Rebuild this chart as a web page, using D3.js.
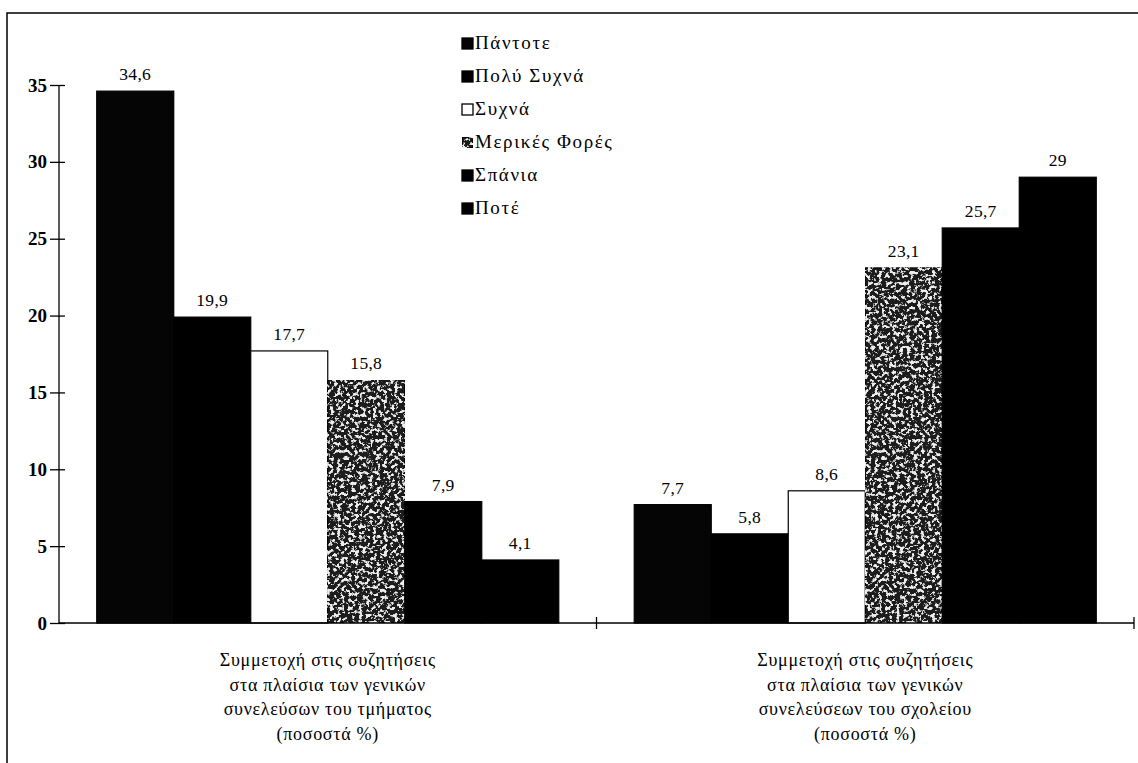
<!DOCTYPE html>
<html><head><meta charset="utf-8">
<script src="https://cdn.jsdelivr.net/npm/d3@7"></script>
<style>
html,body{margin:0;padding:0;background:#fff;}
svg{display:block;}
text{font-family:"Liberation Serif","Times New Roman",serif;fill:#000;}
</style></head>
<body>
<script>
const categories = [
  ["Συμμετοχή στις συζητήσεις","στα πλαίσια των γενικών","συνελεύσων του τμήματος","(ποσοστά %)"],
  ["Συμμετοχή στις συζητήσεις","στα πλαίσια των γενικών","συνελεύσεων του σχολείου","(ποσοστά %)"]
];
const series = ["Πάντοτε","Πολύ Συχνά","Συχνά","Μερικές Φορές","Σπάνια","Ποτέ"];
const valuesTmima = [34.6, 19.9, 17.7, 15.8, 7.9, 4.1];
const valuesSxoleio = [7.7, 5.8, 8.6, 23.1, 25.7, 29];
const yTicks = [0, 5, 10, 15, 20, 25, 30, 35];
const seriesFill = ["#050505","#000000","#ffffff","#1e1e1e","#000000","#000000"];

const W = 1138, H = 763;
const svg = d3.select("body").append("svg").attr("width", W).attr("height", H);

const defs = svg.append("defs");
const f = defs.append("filter").attr("id","speck").attr("filterUnits","objectBoundingBox")
  .attr("x",0).attr("y",0).attr("width",1).attr("height",1);
f.append("feTurbulence").attr("type","fractalNoise").attr("baseFrequency","0.28").attr("numOctaves",3).attr("seed",11).attr("result","n");
f.append("feColorMatrix").attr("in","n").attr("type","matrix")
  .attr("values","0 0 0 0 0.85  0 0 0 0 0.85  0 0 0 0 0.85  9 0 0 0 -4.75").attr("result","w");
f.append("feComposite").attr("in","w").attr("in2","SourceGraphic").attr("operator","in").attr("result","wc");
const fm = f.append("feMerge");
fm.append("feMergeNode").attr("in","SourceGraphic");
fm.append("feMergeNode").attr("in","wc");

// frame
svg.append("path").attr("d","M7,763V13H1138").attr("fill","none").attr("stroke","#000").attr("stroke-width",1.5);

const catKeys = categories.map((c,i)=>"c"+i);
const x0 = d3.scaleBand().domain(catKeys).range([59,1134]).paddingInner(0).paddingOuter(0);
const x1 = d3.scaleBand().domain(series).range([0, x0.bandwidth()]).paddingInner(0).paddingOuter(0.49);
const y = d3.scaleLinear().domain([0,35]).range([623,85]);

const data = [valuesTmima, valuesSxoleio];
const fmt = v => String(v).replace(".", ",");

// bars
data.forEach((vals, ci) => {
  const g = svg.append("g").attr("transform", `translate(${x0(catKeys[ci])},0)`);
  g.selectAll("rect").data(vals).join("rect")
    .attr("x", (d,i)=>x1(series[i]))
    .attr("y", d=>y(d))
    .attr("width", x1.bandwidth())
    .attr("height", d=>y(0)-y(d))
    .attr("fill", (d,i)=>seriesFill[i])
    .attr("stroke","#000").attr("stroke-width",1.2)
    .attr("filter", (d,i)=> series[i]==="Μερικές Φορές" ? "url(#speck)" : null);
  g.selectAll("text.val").data(vals).join("text").attr("class","val")
    .attr("x", (d,i)=>x1(series[i]) + x1.bandwidth()/2)
    .attr("y", d=>y(d) - 11)
    .attr("text-anchor","middle")
    .style("font-size","17.5px")
    .style("letter-spacing","0.3px")
    .text(d=>fmt(d));
});

// y axis
const yAxis = svg.append("g").attr("transform","translate(59,0)")
  .call(d3.axisLeft(y).tickValues(yTicks).tickSize(8).tickFormat(d=>d));
yAxis.select(".domain").attr("stroke","#000").attr("stroke-width",1.3).attr("d","M0,85V623");
yAxis.selectAll(".tick line").attr("x1",-9).attr("x2",6).attr("stroke","#000").attr("stroke-width",1.3);
yAxis.selectAll(".tick text").attr("x",-12).style("font-size","19px").style("font-weight","bold");

// x axis
const xAxis = svg.append("g").attr("transform","translate(0,623)")
  .call(d3.axisBottom(x0).tickValues([]).tickSizeOuter(0));
xAxis.select(".domain").attr("stroke","#000").attr("stroke-width",1.3).attr("d","M59,0H1134");
const xt = [x0.range()[0] + x0.bandwidth(), x0.range()[1]];
xAxis.selectAll("line.xt").data(xt).join("line").attr("class","xt")
  .attr("x1",d=>d).attr("x2",d=>d).attr("y1",-6).attr("y2",6).attr("stroke","#000").attr("stroke-width",1.3);

// category labels
categories.forEach((lines, ci) => {
  const cx = x0(catKeys[ci]) + x0.bandwidth()/2;
  const t = svg.append("text").attr("text-anchor","middle").style("font-size","18px").style("letter-spacing","0.7px");
  lines.forEach((ln, li) => {
    t.append("tspan").attr("x", cx).attr("y", 666 + li*24.5).text(ln);
  });
});

// legend
const lg = svg.append("g").attr("transform","translate(462,0)");
series.forEach((s,i) => {
  const yy = 44 + i*33;
  lg.append("rect").attr("x",0).attr("y",yy-6).attr("width",11).attr("height",11)
    .attr("fill",seriesFill[i]).attr("stroke","#000").attr("stroke-width",1.3)
    .attr("filter", s==="Μερικές Φορές" ? "url(#speck)" : null);
  lg.append("text").attr("x",13).attr("y",yy+5).style("font-size","19px").style("letter-spacing","1.6px").text(s);
});
</script>
</body></html>
